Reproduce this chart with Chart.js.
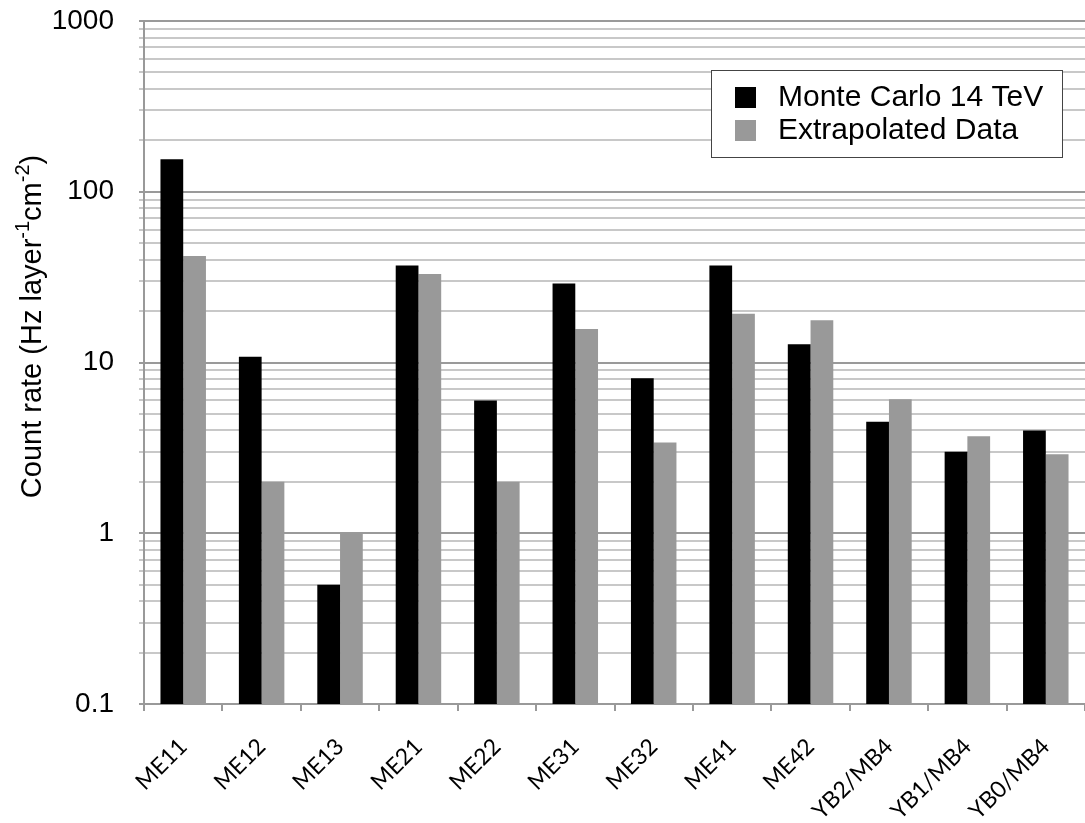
<!DOCTYPE html>
<html>
<head>
<meta charset="utf-8">
<script src="https://cdn.jsdelivr.net/npm/chart.js@4.4.1/dist/chart.umd.min.js"></script>
<style>
  html, body { margin: 0; padding: 0; background: #fff; overflow: hidden; }
  #div_grafico { width: 1085px; height: 823px; }
</style>
</head>
<body>
<div id="div_grafico"><canvas id="grafico"></canvas></div>
<script>
// dados
const categorias = ['ME11', 'ME12', 'ME13', 'ME21', 'ME22', 'ME31', 'ME32', 'ME41', 'ME42', 'YB2/MB4', 'YB1/MB4', 'YB0/MB4'];
const monteCarlo = [155, 10.8, 0.5, 37, 6.0, 29, 8.1, 37, 12.8, 4.5, 3.0, 4.0];
const extrapolados = [42, 2.0, 1.0, 33, 2.0, 15.7, 3.4, 19.3, 17.7, 6.1, 3.7, 2.9];
const ticksDecadas = [0.1, 1, 10, 100, 1000];
const rotulosY = ['0.1', '1', '10', '100', '1000'];
const multiplosMenores = [2, 3, 4, 5, 6, 7, 8, 9];
const nomesSeries = ['Monte Carlo 14 TeV', 'Extrapolated Data'];

// lista de ticks (decadas + linhas menores)
const ticksY = [];
ticksDecadas.forEach(function (d, i) {
  ticksY.push(d);
  if (i < ticksDecadas.length - 1) {
    multiplosMenores.forEach(function (m) { ticksY.push(d * m); });
  }
});

// titulo do eixo Y com sobrescritos
const tituloEixoY = {
  id: 'tituloEixoY',
  afterDraw(chart) {
    const ctx = chart.ctx;
    const area = chart.chartArea;
    const partes = [['Count rate (Hz layer', 0], ['-1', 1], ['cm', 0], ['-2', 1], [')', 0]];
    const fonteNormal = '29px "Liberation Sans", Arial, sans-serif';
    const fonteSup = '20px "Liberation Sans", Arial, sans-serif';
    ctx.save();
    let total = 0;
    partes.forEach(function (p) {
      ctx.font = p[1] ? fonteSup : fonteNormal;
      total += ctx.measureText(p[0]).width;
    });
    ctx.translate(33, (area.top + area.bottom) / 2 - 36);
    ctx.rotate(-Math.PI / 2);
    ctx.fillStyle = '#000';
    ctx.textBaseline = 'middle';
    let x = -total / 2;
    partes.forEach(function (p) {
      ctx.font = p[1] ? fonteSup : fonteNormal;
      ctx.fillText(p[0], x, p[1] ? -10 : 0);
      x += ctx.measureText(p[0]).width;
    });
    ctx.restore();
  }
};

// legenda em caixa dentro da area do grafico
const legendaCaixa = {
  id: 'legendaCaixa',
  afterDraw(chart) {
    const ctx = chart.ctx;
    const area = chart.chartArea;
    const x0 = area.right - 374, y0 = area.top + 49, w = 351, h = 87;
    ctx.save();
    ctx.fillStyle = '#fff';
    ctx.fillRect(x0, y0, w, h);
    ctx.strokeStyle = '#444';
    ctx.lineWidth = 1;
    ctx.strokeRect(x0 + 0.5, y0 + 0.5, w, h);
    ctx.font = '30px "Liberation Sans", Arial, sans-serif';
    ctx.textBaseline = 'middle';
    chart.data.datasets.forEach(function (ds, i) {
      const cy = y0 + 27 + i * 33;
      ctx.fillStyle = ds.backgroundColor;
      ctx.fillRect(x0 + 24, cy - 10, 21, 21);
      ctx.fillStyle = '#000';
      ctx.fillText(ds.label, x0 + 67, cy + 1);
    });
    ctx.restore();
  }
};

const dados = {
  labels: categorias,
  datasets: [{
    label: nomesSeries[0],
    backgroundColor: '#000000',
    data: monteCarlo
  },
  {
    label: nomesSeries[1],
    backgroundColor: '#999999',
    data: extrapolados
  }]
};

new Chart(document.getElementById('grafico'), {
  type: 'bar',
  data: dados,
  plugins: [tituloEixoY, legendaCaixa],
  options: {
    responsive: true,
    maintainAspectRatio: false,
    animation: false,
    layout: { padding: { top: 21, right: 0, left: 0, bottom: 0 } },
    datasets: { bar: { categoryPercentage: 0.58, barPercentage: 1.0 } },
    plugins: {
      legend: { display: false },
      tooltip: { enabled: false }
    },
    scales: {
      x: {
        type: 'category',
        offset: true,
        afterFit: function (s) { s.height = 119; s.paddingLeft = 0; s.paddingRight = 0; },
        grid: { offset: true, drawOnChartArea: false, drawTicks: true, tickLength: 7, color: '#999', lineWidth: 2 },
        border: { color: '#999', width: 2 },
        ticks: {
          minRotation: 45,
          maxRotation: 45,
          autoSkip: false,
          padding: 22,
          color: '#000',
          font: { family: 'Lato, "Open Sans", sans-serif', size: 23 }
        }
      },
      y: {
        type: 'logarithmic',
        min: 0.1,
        max: 1000,
        afterFit: function (s) { s.width = 144; s.paddingTop = 0; s.paddingBottom = 0; },
        afterBuildTicks: function (s) {
          s.ticks = ticksY.map(function (v) { return { value: v }; });
        },
        grid: {
          lineWidth: 2,
          tickLength: 5,
          color: function (c) {
            return c.tick && ticksDecadas.indexOf(c.tick.value) >= 0 ? '#9a9a9a' : '#c8c8c8';
          }
        },
        border: { color: '#999', width: 2 },
        ticks: {
          autoSkip: false,
          padding: 25,
          color: '#000',
          font: { family: '"Liberation Sans", Arial, sans-serif', size: 28 },
          callback: function (v) {
            const i = ticksDecadas.indexOf(v);
            return i >= 0 ? rotulosY[i] : '';
          }
        }
      }
    }
  }
});
</script>
</body>
</html>
